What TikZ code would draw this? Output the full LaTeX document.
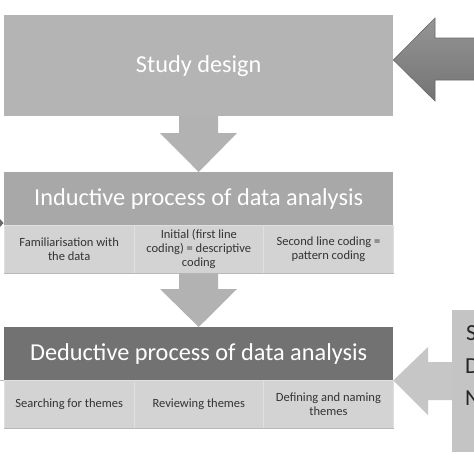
\documentclass[tikz,border=0pt]{standalone}
\usepackage{fontspec}
\setmainfont{Carlito}
\usetikzlibrary{positioning}
\definecolor{studyc}{HTML}{B4B4B4}
\definecolor{indc}{HTML}{A8A8A8}
\definecolor{dedc}{HTML}{727272}
\definecolor{subc}{HTML}{D3D3D3}
\definecolor{subline}{HTML}{E0E0E0}
\definecolor{subedge}{HTML}{B8B8B8}
\definecolor{downc}{HTML}{B2B2B2}
\definecolor{arrtop}{HTML}{959595}
\definecolor{arrbot}{HTML}{747474}
\definecolor{arredge}{HTML}{6A6A6A}
\definecolor{rightc}{HTML}{C6C6C6}
\definecolor{rboxc}{HTML}{C4C4C4}
\definecolor{textc}{HTML}{333333}
\tikzset{
  bigbox/.style={anchor=north west, inner sep=0pt, minimum width=389pt, text=white, font=\fontsize{24.3}{28}\selectfont},
  cellbox/.style={anchor=north west, inner sep=0pt, minimum width=129.67pt, minimum height=48pt, fill=subc, draw=subline, line width=0.6pt, text=textc, align=center, font=\fontsize{12.5}{13.8}\selectfont},
  downarrow/.style={fill=downc, draw=none},
  rletter/.style={anchor=west, inner sep=0pt, text=black!85, font=\fontsize{23}{27}\selectfont},
}
\begin{document}
\begin{tikzpicture}[x=1pt,y=-1pt]
\useasboundingbox (0,0) rectangle (474,474);
\clip (0,0) rectangle (474,474);
\fill[white] (0,0) rectangle (474,474);

% Study design
\node[bigbox, fill=studyc, minimum height=101pt] (study) at (4,15) {Study design};

% Inductive
\node[bigbox, fill=indc, minimum height=53pt] (ind) at (4,172) {Inductive process of data analysis};
\node[cellbox] (i1) at (4,225) {Familiarisation with\\the data};
\node[cellbox] (i2) at (133.67,225) {Initial (first line\\coding) = descriptive\\coding};
\node[cellbox] (i3) at (263.33,225) {Second line coding =\\pattern coding};
\draw[subedge, line width=0.8pt] (i1.south west) -- (i3.south east);

% Deductive
\node[bigbox, fill=dedc, minimum height=53pt] (ded) at (4,327) {Deductive process of data analysis};
\node[cellbox] (d1) at (4,380) {Searching for themes};
\node[cellbox] (d2) at (133.67,380) {Reviewing themes};
\node[cellbox] (d3) at (263.33,380) {Defining and naming\\themes};
\draw[subedge, line width=0.8pt] (d1.south west) -- (d3.south east);

% Down arrows
\fill[downarrow] (179,116) -- (218,116) -- (218,133) -- (237,133) -- (ind.north) -- (160,133) -- (179,133) -- cycle;
\fill[downarrow] (179,273.5) -- (218,273.5) -- (218,289) -- (237,289) -- (ded.north) -- (160,289) -- (179,289) -- cycle;

% Top right arrow
\coordinate (ttip) at (study.east |- 0,60);
\shade[top color=arrtop, bottom color=arrbot, draw=arredge, line width=0.6pt]
  (ttip) -- (435,18) -- (435,38) -- (480,38) -- (480,80) -- (435,80) -- (435,101) -- cycle;

% Right box and bottom right arrow
\node[anchor=north west, inner sep=0pt, minimum width=40pt, minimum height=142pt, fill=rboxc] (rbox) at (452,310) {};
\coordinate (btip) at (ded.south east);
\fill[rightc] (btip) -- (428,347) -- (428,362) -- (rbox.west |- 0,362) -- (rbox.west |- 0,400) -- (428,400) -- (428,415) -- cycle;
\node[rletter] (rs) at (466,333) {S};
\node[rletter] (rd) at (465,366) {D};
\node[rletter] (rn) at (465,398) {N};

% Left edge fragments
\fill[arredge] (0,219) -- (3.5,223) -- (0,227) -- cycle;
\draw[subedge, line width=0.8pt] (0,380) -- (4,380);
\end{tikzpicture}
\end{document}
